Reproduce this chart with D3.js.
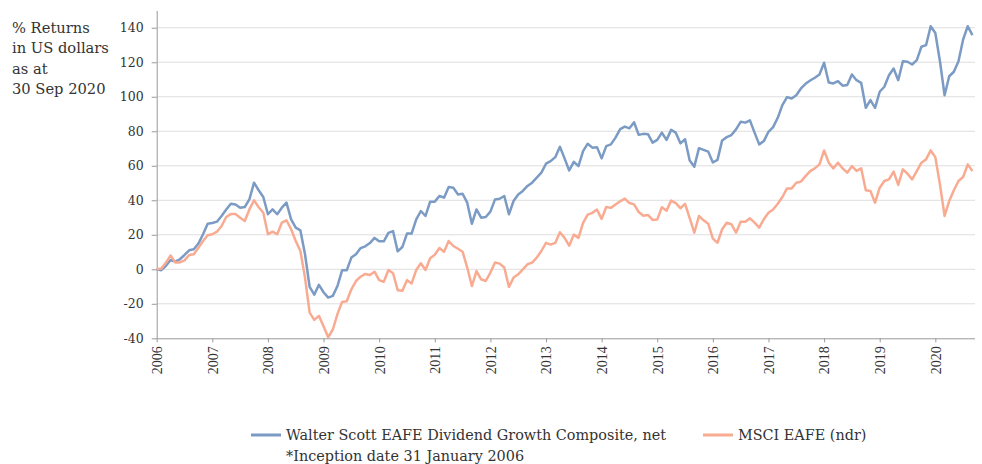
<!DOCTYPE html>
<html><head><meta charset="utf-8">
<script src="https://cdn.jsdelivr.net/npm/d3@7"></script>
<style>body{margin:0;background:#fff}svg{display:block}</style>
</head><body><svg id="c" width="982" height="464"></svg>
<script>
const years = [2006,2007,2008,2009,2010,2011,2012,2013,2014,2015,2016,2017,2018,2019,2020];
const yTicks = [-40,-20,0,20,40,60,80,100,120,140];
const yTitle = ["% Returns","in US dollars","as at","30 Sep 2020"];
const seriesNames = ["Walter Scott EAFE Dividend Growth Composite, net","MSCI EAFE (ndr)"];
const footnote = "*Inception date 31 January 2006";
// monthly cumulative returns, Jan 2006 .. Sep 2020
const walterScott = [
0,-0.5,2,5.4,4.4,5.8,8.3,11,11.6,14.9,20.3,26.4,
26.8,27.6,30.9,34.7,38,37.6,35.7,36.1,40.5,50.2,45.8,41.9,
31.9,34.7,31.9,35.7,38.6,28.9,24.1,22.6,8.7,-10.2,-14.7,-9,
-13.3,-16.4,-15.4,-9.7,-0.6,-0.6,6.8,8.7,12.3,13.3,15.2,18.2,
16.2,16.2,21.1,22.1,10.4,12.9,20.7,20.7,28.9,33.8,30.9,39.2,
39.2,42.5,41.5,47.7,47.3,43.4,43.8,38.6,26.4,34.7,29.9,30.3,
33.4,40.5,40.9,42.5,31.9,39.6,43.4,45.4,48.3,50.2,53.1,56,
61.2,62.7,65,71,64.3,57.3,62.3,59.8,68.5,72.8,70.5,70.8,
64.3,71.4,72.4,76.3,81.2,82.7,81.7,85.2,77.9,78.5,78.3,73.4,
75,79.2,75,80.8,79.2,73,75.4,63,59.5,70.2,69.2,68.2,
61.9,63.4,74.7,76.6,77.8,81.1,85.5,85,86.3,79.2,72.4,74.3,
79.7,82.4,87.8,95.2,99.8,99,100.9,104.8,107.5,109.4,111,112.9,
119.7,108.3,107.7,109,106.4,106.8,112.9,109.6,108.1,93.6,98.1,93.6,
102.9,105.8,112.5,116.4,109.6,120.6,120.3,118.7,121.2,129,129.9,140.9,
137,120.6,100.9,111.9,114.5,120.6,133.2,140.9,135.7];
const msciEafe = [
0,0.5,3.9,8,4,4,5.2,8.3,8.7,12.5,16.4,19.7,
20.3,21.8,25.1,30.3,32,32,29.9,28,34.7,40,36,32.8,
20.3,21.8,20.3,27,28.4,23.2,16.4,10.6,-4.8,-25.1,-29.3,-27,
-33,-39.4,-34.9,-26,-18.9,-18.5,-11.6,-6.8,-4.3,-2.7,-3.3,-1.4,
-6.3,-7.2,-0.4,-2.3,-12.1,-12.5,-6.3,-8.2,-0.4,3.5,-0.4,6.4,
8.4,12.3,10.2,16.4,13.5,11.9,10.2,1,-9.7,-1,-5.8,-6.8,
-1.9,3.9,3.3,1,-10.2,-4.8,-2.9,0,2.9,3.9,6.8,10.6,
15.3,14.3,15.3,21.5,18.2,13.7,20.1,18.2,26.9,31.7,32.7,34.6,
29.2,36.1,35.6,37.5,39.4,41,38.4,37.6,33.2,31,31.5,28.6,
28.8,36,34,39.8,38.3,35.4,37.9,29.6,21.2,30.9,28.4,26.4,
17.8,15.4,23.2,27,26.1,21.2,27.6,27.6,29.5,27,24.1,29,
32.8,34.7,38,41.9,46.9,46.9,50.2,50.8,54,56.9,58.5,60.8,
68.9,61.8,58.5,61.8,58.5,56,59.8,57,58.5,45.8,45.4,38.6,
47.3,51.2,52.1,56.6,48.9,57.9,55.4,52.1,56.9,61.8,63.7,68.9,
65,49.2,30.9,39.6,45.8,51.2,53.5,60.8,56.9];

const blue = "#7b9bc4", salmon = "#f9ab92", textCol = "#333", serif = "'DejaVu Serif', serif";
const svg = d3.select("#c");
const x = d3.scaleLinear().domain([2006, 2006 + (walterScott.length - 1) / 12]).range([156.7, 972.4]);
const y = d3.scaleLinear().domain([-40, 150]).range([338.3, 10.5]);

// gridlines
svg.append("g").selectAll("line").data(yTicks.filter(d => d > -40)).join("line")
  .attr("x1", x.range()[0]).attr("x2", 975)
  .attr("y1", d => y(d)).attr("y2", d => y(d))
  .attr("stroke", "#dedede").attr("stroke-width", 1);

// y axis
const ya = svg.append("g").attr("transform", `translate(${x.range()[0]},0)`)
  .call(d3.axisLeft(y).tickValues(yTicks).tickSize(5).tickSizeOuter(0).tickPadding(8).tickFormat(d => d));
ya.select(".domain").attr("stroke", "#999");
ya.selectAll(".tick line").attr("stroke", "#999");
ya.selectAll("text").attr("font-family", serif).attr("font-size", 12.5).attr("fill", textCol);

// x axis
const xa = svg.append("g").attr("transform", `translate(0,${y(-40)})`)
  .call(d3.axisBottom(x).tickValues(years).tickSize(4).tickSizeOuter(0).tickFormat(d => d));
xa.select(".domain").attr("stroke", "#999").attr("d", `M${x.range()[0]},0.5H975`);
xa.selectAll(".tick line").attr("stroke", "#999");
xa.selectAll("text").attr("font-family", "'Liberation Serif', serif").attr("font-size", 14).attr("fill", textCol)
  .attr("transform", "rotate(-90)").attr("x", -8).attr("y", 0).attr("dy", "0.35em").style("text-anchor", "end");

// lines
const line = d3.line().x((d, i) => x(2006 + i / 12)).y(d => y(d));
svg.append("path").datum(walterScott).attr("d", line).attr("fill", "none")
  .attr("stroke", blue).attr("stroke-width", 2.5).attr("stroke-linejoin", "round");
svg.append("path").datum(msciEafe).attr("d", line).attr("fill", "none")
  .attr("stroke", salmon).attr("stroke-width", 2.5).attr("stroke-linejoin", "round");

// y title
svg.append("text").attr("font-family", serif).attr("font-size", 14.7).attr("fill", textCol)
  .selectAll("tspan").data(yTitle).join("tspan")
  .attr("x", 12).attr("y", (d, i) => 33 + i * 20.3).text(d => d);

// legend
const leg = [{name: seriesNames[0], col: blue, x: 251}, {name: seriesNames[1], col: salmon, x: 703}];
leg.forEach(l => {
  svg.append("line").attr("x1", l.x).attr("x2", l.x + 30).attr("y1", 435).attr("y2", 435)
    .attr("stroke", l.col).attr("stroke-width", 3);
  svg.append("text").attr("x", l.x + 35).attr("y", 440).attr("font-family", serif)
    .attr("font-size", 14.4).attr("fill", textCol).text(l.name);
});
svg.append("text").attr("x", 286).attr("y", 460.5).attr("font-family", serif)
  .attr("font-size", 14.4).attr("fill", textCol).text(footnote);
</script></body></html>
